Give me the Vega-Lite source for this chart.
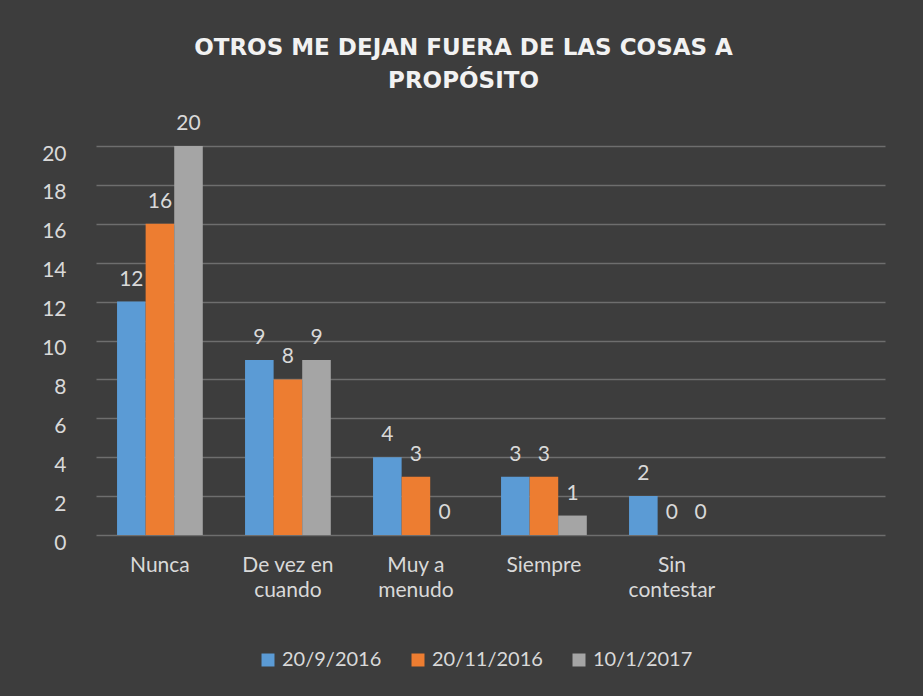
{
  "$schema": "https://vega.github.io/schema/vega-lite/v6.json",
  "autosize": "none",
  "width": 789,
  "height": 389,
  "padding": {"left": 96, "top": 146, "right": 38, "bottom": 161},
  "background": "#3d3d3d",
  "title": {
    "text": ["OTROS ME DEJAN FUERA DE LAS COSAS A", "PROPÓSITO"],
    "font": "DejaVu Sans",
    "fontSize": 23,
    "fontWeight": "bold",
    "color": "#f2f2f2",
    "anchor": "middle",
    "dx": -27,
    "offset": 20,
    "lineHeight": 33
  },
  "data": {
    "values": [
      {"cat": "Nunca", "serie": "20/9/2016", "v": 12},
      {"cat": "Nunca", "serie": "20/11/2016", "v": 16},
      {"cat": "Nunca", "serie": "10/1/2017", "v": 20},
      {"cat": "De vez en cuando", "serie": "20/9/2016", "v": 9},
      {"cat": "De vez en cuando", "serie": "20/11/2016", "v": 8},
      {"cat": "De vez en cuando", "serie": "10/1/2017", "v": 9},
      {"cat": "Muy a menudo", "serie": "20/9/2016", "v": 4},
      {"cat": "Muy a menudo", "serie": "20/11/2016", "v": 3},
      {"cat": "Muy a menudo", "serie": "10/1/2017", "v": 0},
      {"cat": "Siempre", "serie": "20/9/2016", "v": 3},
      {"cat": "Siempre", "serie": "20/11/2016", "v": 3},
      {"cat": "Siempre", "serie": "10/1/2017", "v": 1},
      {"cat": "Sin contestar", "serie": "20/9/2016", "v": 2},
      {"cat": "Sin contestar", "serie": "20/11/2016", "v": 0},
      {"cat": "Sin contestar", "serie": "10/1/2017", "v": 0}
    ]
  },
  "encoding": {
    "x": {
      "field": "cat",
      "type": "nominal",
      "sort": ["Nunca", "De vez en cuando", "Muy a menudo", "Siempre", "Sin contestar"],
      "scale": {"paddingInner": 0.33, "paddingOuter": 0.747, "align": 0.11},
      "axis": {
        "title": null,
        "labelAngle": 0,
        "domain": false,
        "ticks": false,
        "labelPadding": 19,
        "labelFont": "Lato",
        "labelFontSize": 21,
        "labelColor": "#d9d9d9",
        "labelLineHeight": 25,
        "labelExpr": "datum.label == 'De vez en cuando' ? ['De vez en', 'cuando'] : datum.label == 'Muy a menudo' ? ['Muy a', 'menudo'] : datum.label == 'Sin contestar' ? ['Sin', 'contestar'] : datum.label"
      }
    },
    "xOffset": {
      "field": "serie",
      "type": "nominal",
      "sort": ["20/9/2016", "20/11/2016", "10/1/2017"]
    },
    "y": {
      "field": "v",
      "type": "quantitative",
      "scale": {"domain": [0, 20], "nice": false},
      "axis": {
        "title": null,
        "values": [0, 2, 4, 6, 8, 10, 12, 14, 16, 18, 20],
        "domain": false,
        "ticks": false,
        "labelPadding": 30,
        "labelOffset": 8,
        "labelFont": "Lato",
        "labelFontSize": 21,
        "labelColor": "#d9d9d9",
        "grid": true,
        "gridColor": "#6e6e6e",
        "gridWidth": 1.5
      }
    }
  },
  "layer": [
    {
      "mark": {"type": "bar"},
      "encoding": {
        "color": {
          "field": "serie",
          "type": "nominal",
          "sort": ["20/9/2016", "20/11/2016", "10/1/2017"],
          "scale": {"range": ["#5b9bd5", "#ed7d31", "#a5a5a5"]},
          "legend": {
            "title": null,
            "orient": "none",
            "direction": "horizontal",
            "legendX": 162,
            "legendY": 504,
            "symbolType": "square",
            "symbolSize": 169,
            "symbolStrokeWidth": 0,
            "labelFont": "Lato",
            "labelFontSize": 20,
            "labelColor": "#d9d9d9",
            "columnPadding": 26,
            "labelOffset": 4
          }
        }
      }
    },
    {
      "mark": {"type": "text", "dy": -22, "font": "Lato", "fontSize": 21, "color": "#d9d9d9"},
      "encoding": {"text": {"field": "v", "type": "quantitative"}}
    }
  ],
  "config": {"view": {"stroke": null}}
}
